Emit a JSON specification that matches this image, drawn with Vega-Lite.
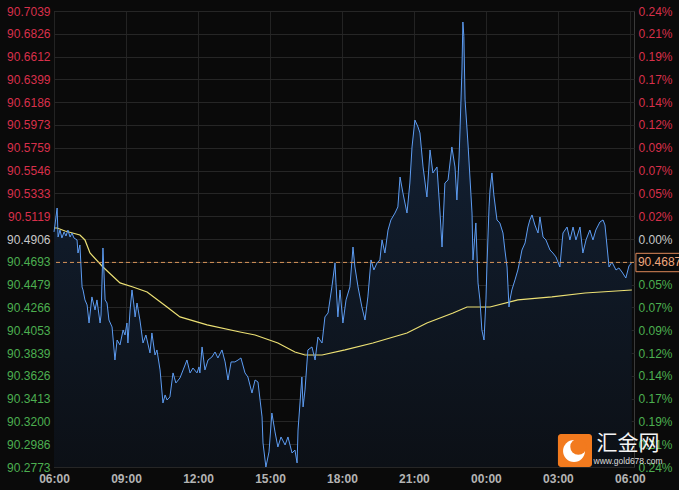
{
  "$schema": "https://vega.github.io/schema/vega-lite/v6.json",
  "width": 580,
  "height": 456,
  "autosize": {"type": "none"},
  "padding": {"left": 54, "top": 11, "right": 45, "bottom": 23},
  "background": "#0a0a0a",
  "config": {
    "view": {"stroke": "#3a3a3a", "strokeWidth": 1},
    "axis": {"domain": false, "ticks": false, "labelFont": "Liberation Sans", "labelFontSize": 12, "gridColor": "#262626", "gridWidth": 1, "title": null}
  },
  "datasets": {
    "price": [
      {"t":0,"p":90.4972},{"t":0.04,"p":90.5037},{"t":0.13,"p":90.5196},{"t":0.17,"p":90.4925},{"t":0.25,"p":90.499},{"t":0.33,"p":90.4916},{"t":0.42,"p":90.4972},{"t":0.5,"p":90.4934},{"t":0.58,"p":90.499},{"t":0.67,"p":90.4925},{"t":0.75,"p":90.4962},{"t":0.83,"p":90.4916},{"t":0.96,"p":90.4897},{"t":1.0,"p":90.4775},{"t":1.08,"p":90.485},{"t":1.17,"p":90.4457},{"t":1.21,"p":90.4429},{"t":1.29,"p":90.4336},{"t":1.38,"p":90.4289},{"t":1.46,"p":90.412},{"t":1.58,"p":90.4364},{"t":1.71,"p":90.4242},{"t":1.79,"p":90.4336},{"t":1.92,"p":90.412},{"t":1.96,"p":90.4195},{"t":2.04,"p":90.4822},{"t":2.13,"p":90.4336},{"t":2.21,"p":90.4307},{"t":2.29,"p":90.4148},{"t":2.42,"p":90.4083},{"t":2.54,"p":90.3774},{"t":2.63,"p":90.3961},{"t":2.75,"p":90.3915},{"t":2.88,"p":90.4055},{"t":2.96,"p":90.4008},{"t":3.04,"p":90.412},{"t":3.08,"p":90.3933},{"t":3.17,"p":90.4242},{"t":3.25,"p":90.4429},{"t":3.33,"p":90.4289},{"t":3.38,"p":90.4177},{"t":3.46,"p":90.4307},{"t":3.58,"p":90.4148},{"t":3.71,"p":90.3933},{"t":3.83,"p":90.4008},{"t":4.0,"p":90.384},{"t":4.08,"p":90.4027},{"t":4.21,"p":90.3821},{"t":4.29,"p":90.3868},{"t":4.42,"p":90.3681},{"t":4.54,"p":90.3372},{"t":4.63,"p":90.3447},{"t":4.71,"p":90.34},{"t":4.83,"p":90.3428},{"t":4.96,"p":90.3653},{"t":5.08,"p":90.3559},{"t":5.25,"p":90.3606},{"t":5.38,"p":90.3681},{"t":5.54,"p":90.3774},{"t":5.67,"p":90.3653},{"t":5.79,"p":90.3699},{"t":5.96,"p":90.3653},{"t":6.04,"p":90.3709},{"t":6.08,"p":90.3653},{"t":6.17,"p":90.3896},{"t":6.29,"p":90.3681},{"t":6.42,"p":90.3774},{"t":6.58,"p":90.3802},{"t":6.71,"p":90.3849},{"t":6.83,"p":90.3793},{"t":7.0,"p":90.3868},{"t":7.13,"p":90.3756},{"t":7.25,"p":90.3587},{"t":7.38,"p":90.3756},{"t":7.54,"p":90.3756},{"t":7.67,"p":90.3774},{"t":7.79,"p":90.3793},{"t":7.96,"p":90.3653},{"t":8.08,"p":90.3615},{"t":8.25,"p":90.3465},{"t":8.38,"p":90.3587},{"t":8.5,"p":90.3568},{"t":8.67,"p":90.3241},{"t":8.71,"p":90.2998},{"t":8.83,"p":90.2773},{"t":8.96,"p":90.2914},{"t":9.08,"p":90.3278},{"t":9.21,"p":90.3101},{"t":9.33,"p":90.296},{"t":9.46,"p":90.3054},{"t":9.63,"p":90.2979},{"t":9.75,"p":90.3054},{"t":9.92,"p":90.2904},{"t":10.04,"p":90.2932},{"t":10.13,"p":90.2811},{"t":10.17,"p":90.3119},{"t":10.33,"p":90.3615},{"t":10.38,"p":90.3335},{"t":10.46,"p":90.3494},{"t":10.58,"p":90.3868},{"t":10.75,"p":90.3896},{"t":10.88,"p":90.3774},{"t":11.0,"p":90.3989},{"t":11.17,"p":90.3933},{"t":11.29,"p":90.4177},{"t":11.42,"p":90.4214},{"t":11.58,"p":90.4457},{"t":11.71,"p":90.4682},{"t":11.75,"p":90.4495},{"t":11.83,"p":90.4177},{"t":11.92,"p":90.4429},{"t":12.04,"p":90.412},{"t":12.17,"p":90.4336},{"t":12.33,"p":90.4457},{"t":12.46,"p":90.4831},{"t":12.54,"p":90.4644},{"t":12.67,"p":90.4457},{"t":12.83,"p":90.427},{"t":12.96,"p":90.4148},{"t":13.08,"p":90.4364},{"t":13.21,"p":90.471},{"t":13.33,"p":90.4616},{"t":13.46,"p":90.4682},{"t":13.58,"p":90.471},{"t":13.67,"p":90.4897},{"t":13.79,"p":90.4775},{"t":13.92,"p":90.499},{"t":14.04,"p":90.5084},{"t":14.21,"p":90.5149},{"t":14.33,"p":90.5206},{"t":14.42,"p":90.5486},{"t":14.54,"p":90.5337},{"t":14.71,"p":90.5149},{"t":14.83,"p":90.543},{"t":14.92,"p":90.5767},{"t":15.04,"p":90.6019},{"t":15.17,"p":90.5954},{"t":15.25,"p":90.5898},{"t":15.38,"p":90.558},{"t":15.54,"p":90.5299},{"t":15.67,"p":90.5739},{"t":15.79,"p":90.5524},{"t":15.96,"p":90.558},{"t":16.08,"p":90.5177},{"t":16.17,"p":90.4831},{"t":16.29,"p":90.543},{"t":16.42,"p":90.5458},{"t":16.58,"p":90.5767},{"t":16.71,"p":90.558},{"t":16.79,"p":90.5271},{"t":16.88,"p":90.5673},{"t":16.92,"p":90.5926},{"t":17.0,"p":90.6487},{"t":17.04,"p":90.6936},{"t":17.08,"p":90.68},{"t":17.13,"p":90.6207},{"t":17.25,"p":90.5804},{"t":17.42,"p":90.5149},{"t":17.46,"p":90.471},{"t":17.58,"p":90.5056},{"t":17.67,"p":90.4495},{"t":17.75,"p":90.4336},{"t":17.83,"p":90.4055},{"t":17.92,"p":90.3961},{"t":18.0,"p":90.4336},{"t":18.04,"p":90.4644},{"t":18.13,"p":90.5206},{"t":18.17,"p":90.5365},{"t":18.25,"p":90.5524},{"t":18.33,"p":90.5318},{"t":18.46,"p":90.5084},{"t":18.58,"p":90.5056},{"t":18.71,"p":90.4962},{"t":18.79,"p":90.4803},{"t":18.88,"p":90.4644},{"t":18.96,"p":90.427},{"t":19.0,"p":90.4336},{"t":19.08,"p":90.4429},{"t":19.21,"p":90.4523},{"t":19.33,"p":90.4616},{"t":19.42,"p":90.471},{"t":19.5,"p":90.4803},{"t":19.63,"p":90.4869},{"t":19.75,"p":90.5018},{"t":19.83,"p":90.5084},{"t":19.92,"p":90.5131},{"t":20.04,"p":90.5037},{"t":20.17,"p":90.4962},{"t":20.25,"p":90.5112},{"t":20.38,"p":90.4925},{"t":20.5,"p":90.4897},{"t":20.67,"p":90.4803},{"t":20.79,"p":90.4775},{"t":20.92,"p":90.4738},{"t":21.08,"p":90.4644},{"t":21.21,"p":90.4962},{"t":21.38,"p":90.5018},{"t":21.5,"p":90.4897},{"t":21.63,"p":90.5018},{"t":21.75,"p":90.4897},{"t":21.92,"p":90.5018},{"t":22.04,"p":90.4775},{"t":22.17,"p":90.4897},{"t":22.33,"p":90.499},{"t":22.46,"p":90.4897},{"t":22.58,"p":90.499},{"t":22.75,"p":90.5065},{"t":22.88,"p":90.5084},{"t":22.96,"p":90.5037},{"t":23.13,"p":90.4644},{"t":23.25,"p":90.4691},{"t":23.42,"p":90.4616},{"t":23.54,"p":90.4635},{"t":23.67,"p":90.4597},{"t":23.83,"p":90.4541},{"t":23.96,"p":90.4654},{"t":24.08,"p":90.4687}
    ],
    "avg": [
      {"t":0,"p":90.5009},{"t":0.13,"p":90.5009},{"t":0.46,"p":90.4981},{"t":1.08,"p":90.4943},{"t":1.29,"p":90.4897},{"t":1.5,"p":90.4775},{"t":2.04,"p":90.4644},{"t":2.75,"p":90.4495},{"t":3.29,"p":90.4457},{"t":3.88,"p":90.441},{"t":4.71,"p":90.427},{"t":5.25,"p":90.4177},{"t":6.38,"p":90.4102},{"t":7.75,"p":90.4036},{"t":8.38,"p":90.4008},{"t":9.33,"p":90.3933},{"t":10.04,"p":90.3849},{"t":10.46,"p":90.3821},{"t":11.17,"p":90.3821},{"t":12.13,"p":90.3868},{"t":13.29,"p":90.3933},{"t":14.71,"p":90.4027},{"t":15.54,"p":90.412},{"t":16.63,"p":90.4214},{"t":17.21,"p":90.427},{"t":18.17,"p":90.427},{"t":19.33,"p":90.4336},{"t":20.75,"p":90.4364},{"t":22.13,"p":90.4401},{"t":24.08,"p":90.4429}
    ]
  },
  "layer": [
    {
      "data": {"name": "price"},
      "mark": {"type": "area", "line": false, "color": {"gradient": "linear", "x1": 0, "y1": 0, "x2": 0, "y2": 1, "stops": [{"offset": 0, "color": "#14243a"}, {"offset": 1, "color": "#0c1016"}]}},
      "encoding": {
        "x": {"field": "t", "type": "quantitative", "scale": {"domain": [0, 24.17], "nice": false, "zero": false},
              "axis": {"values": [0, 3, 6, 9, 12, 15, 18, 21, 24], "labelExpr": "((((datum.value+6)%24)<10)?'0':'')+((datum.value+6)%24)+':00'", "labelColor": "#b4b4b4", "labelFontWeight": "bold", "labelPadding": 6, "labelOverlap": false, "labelFlush": false, "grid": true, "gridColor": "#232323"}},
        "y": {"field": "p", "type": "quantitative", "scale": {"domain": [90.2773, 90.7039], "nice": false, "zero": false},
              "axis": {"orient": "left", "values": [90.2773, 90.2986, 90.32, 90.3413, 90.3626, 90.3839, 90.4053, 90.4266, 90.4479, 90.4693, 90.4906, 90.5119, 90.5333, 90.5546, 90.5759, 90.5973, 90.6186, 90.6399, 90.6612, 90.6826, 90.7039], "format": ".4f", "labelPadding": 4, "labelOverlap": false, "labelFlush": false, "grid": true,
                       "labelColor": {"expr": "datum.value > 90.491 ? '#d8304a' : (datum.value < 90.490 ? '#4caf50' : '#c8c8c8')"}}},
        "y2": {"datum": 90.2773}
      }
    },
    {
      "data": {"name": "avg"},
      "mark": {"type": "line", "color": "#ece074", "strokeWidth": 1.2},
      "encoding": {
        "x": {"field": "t", "type": "quantitative"},
        "y": {"field": "p", "type": "quantitative", "axis": null}
      }
    },
    {
      "data": {"name": "price"},
      "mark": {"type": "line", "color": "#5d9cf2", "strokeWidth": 1},
      "encoding": {
        "x": {"field": "t", "type": "quantitative"},
        "y": {"field": "p", "type": "quantitative", "axis": null}
      }
    },
    {
      "data": {"values": [{"last": 90.4687}]},
      "mark": {"type": "rule", "color": "#d8955a", "strokeDash": [4, 3], "strokeWidth": 1},
      "encoding": {
        "y": {"field": "last", "type": "quantitative",
              "axis": {"orient": "right", "values": [90.2773, 90.2986, 90.32, 90.3413, 90.3626, 90.3839, 90.4053, 90.4266, 90.4479, 90.4693, 90.4906, 90.5119, 90.5333, 90.5546, 90.5759, 90.5973, 90.6186, 90.6399, 90.6612, 90.6826, 90.7039], "grid": false, "labelPadding": 4, "labelOverlap": false, "labelFlush": false,
                       "labelExpr": "['0.00%','0.02%','0.05%','0.07%','0.09%','0.12%','0.14%','0.17%','0.19%','0.21%','0.24%'][round(abs(datum.value-90.4906)/0.021333)]",
                       "labelColor": {"expr": "datum.value > 90.491 ? '#d8304a' : (datum.value < 90.490 ? '#4caf50' : '#c8c8c8')"}}}
      }
    },
    {
      "data": {"values": [{"label": "90.4687"}]},
      "mark": {"type": "rect", "fill": "#0a0a0a", "stroke": "#e08a5a", "strokeWidth": 1},
      "encoding": {
        "x": {"datum": 24.25, "type": "quantitative"},
        "x2": {"datum": 26.3},
        "y": {"datum": 90.4772, "type": "quantitative", "axis": null},
        "y2": {"datum": 90.4600}
      }
    },
    {
      "data": {"values": [{"label": "90.4687"}]},
      "mark": {"type": "text", "align": "left", "baseline": "middle", "dx": 2, "font": "Liberation Sans", "fontSize": 12, "color": "#f0a87e"},
      "encoding": {
        "x": {"datum": 24.25, "type": "quantitative"},
        "y": {"datum": 90.4687, "type": "quantitative", "axis": null},
        "text": {"field": "label"}
      }
    },
    {
      "data": {"values": [{"brand": "汇金网"}]},
      "mark": {"type": "rect", "fill": "#f27a1e", "cornerRadius": 3},
      "encoding": {
        "x": {"datum": 21.0, "type": "quantitative"},
        "x2": {"datum": 22.42},
        "y": {"datum": 90.3082, "type": "quantitative", "axis": null},
        "y2": {"datum": 90.2773}
      }
    },
    {
      "data": {"values": [{"brand": "汇金网"}]},
      "mark": {"type": "point", "shape": "circle", "filled": true, "color": "#ffffff", "size": 480, "opacity": 1},
      "encoding": {
        "x": {"datum": 21.67, "type": "quantitative"},
        "y": {"datum": 90.2922, "type": "quantitative", "axis": null}
      }
    },
    {
      "data": {"values": [{"brand": "汇金网"}]},
      "mark": {"type": "point", "shape": "circle", "filled": true, "color": "#f27a1e", "size": 260, "opacity": 1},
      "encoding": {
        "x": {"datum": 21.85, "type": "quantitative"},
        "y": {"datum": 90.2962, "type": "quantitative", "axis": null}
      }
    },
    {
      "data": {"values": [{"brand": "汇金网", "site": "www.gold678.com"}]},
      "mark": {"type": "text", "align": "center", "baseline": "middle", "font": "Noto Sans CJK SC", "fontSize": 21, "color": "#f4f4f4"},
      "encoding": {
        "x": {"datum": 23.92, "type": "quantitative"},
        "y": {"datum": 90.2985, "type": "quantitative", "axis": null},
        "text": {"field": "brand"}
      }
    },
    {
      "data": {"values": [{"brand": "汇金网", "site": "www.gold678.com"}]},
      "mark": {"type": "text", "align": "center", "baseline": "middle", "font": "Liberation Sans", "fontSize": 8.5, "color": "#dddddd"},
      "encoding": {
        "x": {"datum": 23.92, "type": "quantitative"},
        "y": {"datum": 90.2829, "type": "quantitative", "axis": null},
        "text": {"field": "site"}
      }
    }
  ],
  "resolve": {"axis": {"y": "independent"}}
}
